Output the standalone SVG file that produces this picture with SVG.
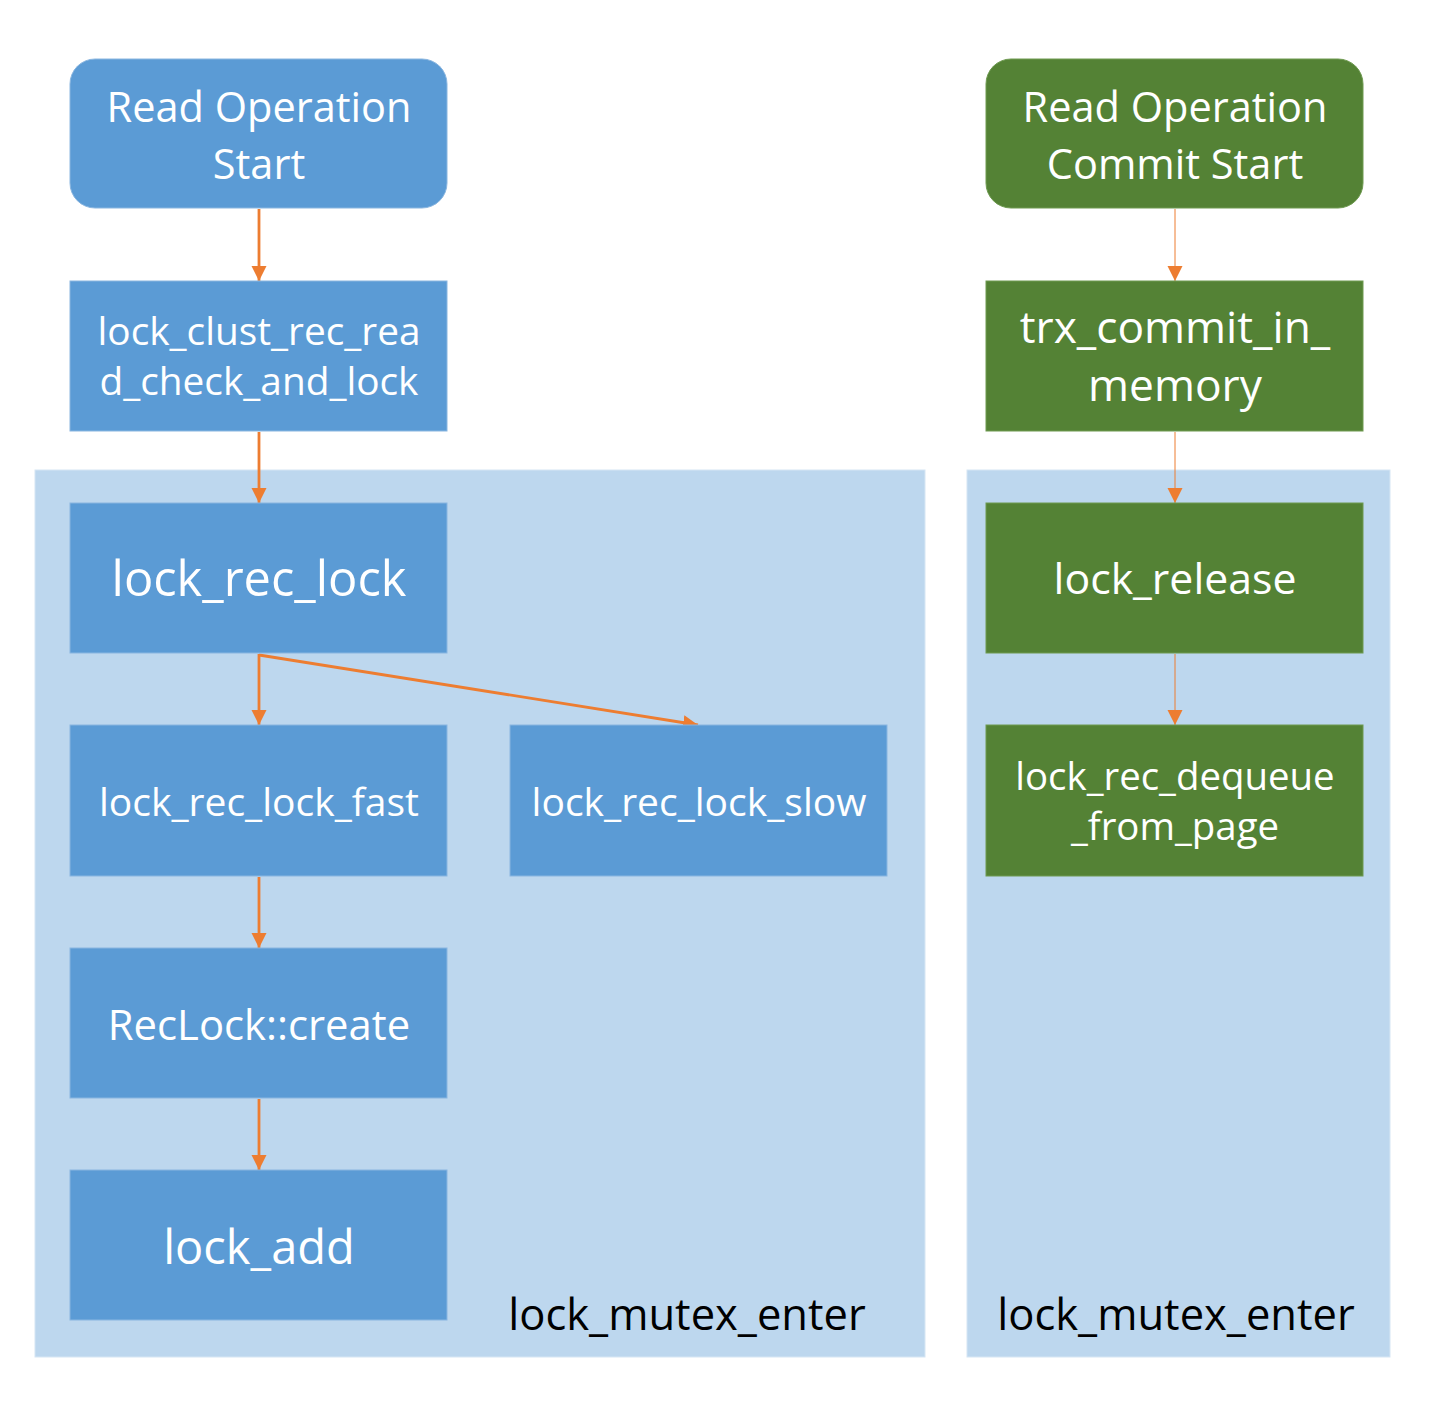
<svg xmlns="http://www.w3.org/2000/svg" width="1439" height="1401" viewBox="0 0 1439 1401">
<style>
.bg{fill:#FFFFFF}
.cont{fill:#BDD7EE;stroke:#D6E6F4;stroke-width:1}
.blue{fill:#5B9BD5;stroke:#8AB6E0;stroke-width:1}
.green{fill:#548235;stroke:#6E9A50;stroke-width:1}
.t{font-family:"Open Sans","Noto Sans","DejaVu Sans",sans-serif;fill:#FFFFFF;text-anchor:middle}
.lbl{font-family:"Open Sans","Noto Sans","DejaVu Sans",sans-serif;fill:#000000;text-anchor:middle}
.thick{stroke:#ED7D31;stroke-width:2.8;fill:none;marker-end:url(#ah)}
.thin{stroke:#ED7D31;stroke-width:1;fill:none;marker-end:url(#ah)}
</style>
<defs>
<marker id="ah" markerUnits="userSpaceOnUse" viewBox="0 0 16 16" markerWidth="16" markerHeight="16" refX="15" refY="7.5" orient="auto">
<path d="M0,0 L15,7.5 L0,15 z" fill="#ED7D31"/>
</marker>
</defs>
<rect class="bg" x="0" y="0" width="1439" height="1401"/>
<g id="container-left">
<rect class="cont" x="35" y="470" width="890" height="887"/>
<text class="lbl" x="687" y="1330" font-size="43.5">lock_mutex_enter</text>
</g>
<g id="container-right">
<rect class="cont" x="967" y="470" width="423" height="887"/>
<text class="lbl" x="1176" y="1330" font-size="43.5">lock_mutex_enter</text>
</g>
<g id="connectors">
<path class="thick" d="M259,209 L259,281"/>
<path class="thick" d="M259,432 L259,503"/>
<path class="thick" d="M259,654 L259,725"/>
<path class="thick" d="M259,655 L698,725"/>
<path class="thick" d="M259,877 L259,948"/>
<path class="thick" d="M259,1099 L259,1170"/>
<path class="thin" d="M1175,209 L1175,281"/>
<path class="thin" d="M1175,432 L1175,503"/>
<path class="thin" d="M1175,654 L1175,725"/>
</g>
<g id="read-start">
<rect class="blue" x="70" y="59" width="377" height="149" rx="25"/>
<text class="t" x="259" y="122" font-size="41.5">Read Operation</text>
<text class="t" x="259" y="179" font-size="41.5">Start</text>
</g>
<g id="lock-clust">
<rect class="blue" x="70" y="281" width="377" height="150"/>
<text class="t" x="259" y="345" font-size="38.8">lock_clust_rec_rea</text>
<text class="t" x="259" y="395" font-size="38.8">d_check_and_lock</text>
</g>
<g id="lock-rec-lock">
<rect class="blue" x="70" y="503" width="377" height="150"/>
<text class="t" x="259" y="596" font-size="48.8">lock_rec_lock</text>
</g>
<g id="lock-rec-lock-fast">
<rect class="blue" x="70" y="725" width="377" height="151"/>
<text class="t" x="259" y="816" font-size="39">lock_rec_lock_fast</text>
</g>
<g id="lock-rec-lock-slow">
<rect class="blue" x="510" y="725" width="377" height="151"/>
<text class="t" x="699" y="816" font-size="39">lock_rec_lock_slow</text>
</g>
<g id="reclock-create">
<rect class="blue" x="70" y="948" width="377" height="150"/>
<text class="t" x="259" y="1040" font-size="41.8">RecLock::create</text>
</g>
<g id="lock-add">
<rect class="blue" x="70" y="1170" width="377" height="150"/>
<text class="t" x="259" y="1264" font-size="47">lock_add</text>
</g>
<g id="commit-start">
<rect class="green" x="986" y="59" width="377" height="149" rx="25"/>
<text class="t" x="1175" y="122" font-size="41.5">Read Operation</text>
<text class="t" x="1175" y="179" font-size="41.5">Commit Start</text>
</g>
<g id="trx-commit">
<rect class="green" x="986" y="281" width="377" height="150"/>
<text class="t" x="1175" y="343" font-size="44.3">trx_commit_in_</text>
<text class="t" x="1175" y="401" font-size="44.3">memory</text>
</g>
<g id="lock-release">
<rect class="green" x="986" y="503" width="377" height="150"/>
<text class="t" x="1175" y="594" font-size="42.8">lock_release</text>
</g>
<g id="lock-rec-dequeue">
<rect class="green" x="986" y="725" width="377" height="151"/>
<text class="t" x="1175" y="790" font-size="38.4">lock_rec_dequeue</text>
<text class="t" x="1175" y="840" font-size="38.4">_from_page</text>
</g>
</svg>
